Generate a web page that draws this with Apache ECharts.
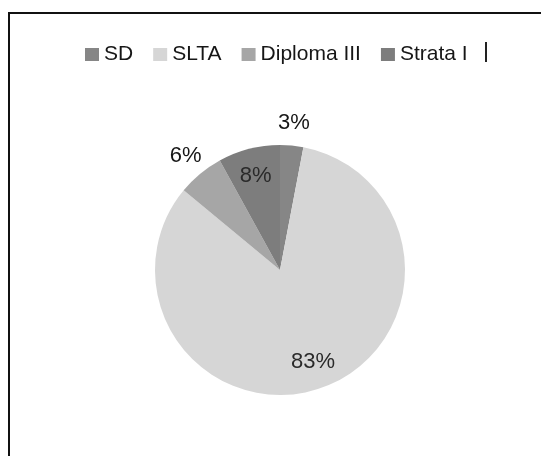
<!DOCTYPE html>
<html>
<head>
<meta charset="utf-8">
<script src="https://cdn.jsdelivr.net/npm/echarts@6/dist/echarts.min.js"></script>
<style>
  html, body { margin: 0; padding: 0; background: #fff; }
  #chart { width: 541px; height: 456px; }
</style>
</head>
<body>
<div id="chart"></div>
<script>
// Education level shares (percent)
const categories = ['SD', 'SLTA', 'Diploma III', 'Strata I'];
const shares = [3, 83, 6, 8];
const colors = ['#868686', '#d6d6d6', '#a6a6a6', '#7d7d7d'];
// which slices carry their label inside the pie, which outside
const labelInside = [false, true, false, true];

const center = [280, 270];
const radius = 125;

const pieData = categories.map((name, i) => ({ name, value: shares[i] }));

// transparent ring used only to place the percentage labels at a chosen distance
function labelRing(inside) {
  return {
    type: 'pie',
    silent: true,
    center,
    radius: inside ? [64, radius] : [radius, 165],
    startAngle: 90,
    clockwise: true,
    itemStyle: { color: 'rgba(0,0,0,0)' },
    emphasis: { disabled: true },
    data: categories.map((name, i) => ({
      name,
      value: shares[i],
      label: { show: labelInside[i] === inside }
    })),
    label: {
      position: 'inside',
      formatter: '{c}%',
      fontFamily: 'Liberation Sans, Arial, sans-serif',
      fontSize: 22,
      color: inside ? '#2a2a2a' : '#161616'
    },
    labelLine: { show: false }
  };
}

const chart = echarts.init(document.getElementById('chart'), null, { renderer: 'canvas' });
chart.setOption({
  animation: false,
  backgroundColor: '#fff',
  color: colors,
  legend: {
    data: categories,
    left: 80,
    top: 39,
    icon: 'rect',
    itemWidth: 14,
    itemHeight: 13,
    itemGap: 20,
    textStyle: {
      fontFamily: 'Liberation Sans, Arial, sans-serif',
      fontSize: 21,
      color: '#161616'
    }
  },
  graphic: [
    {
      type: 'rect',
      shape: { x: 9, y: 13, width: 600, height: 500 },
      style: { fill: 'none', stroke: '#111', lineWidth: 2 }
    },
    {
      type: 'rect',
      shape: { x: 485, y: 42, width: 2, height: 20 },
      style: { fill: '#222' }
    }
  ],
  series: [
    {
      type: 'pie',
      center,
      radius,
      startAngle: 90,
      clockwise: true,
      data: pieData,
      label: { show: false },
      labelLine: { show: false },
      emphasis: { disabled: true }
    },
    labelRing(true),
    labelRing(false)
  ]
});
</script>
</body>
</html>
